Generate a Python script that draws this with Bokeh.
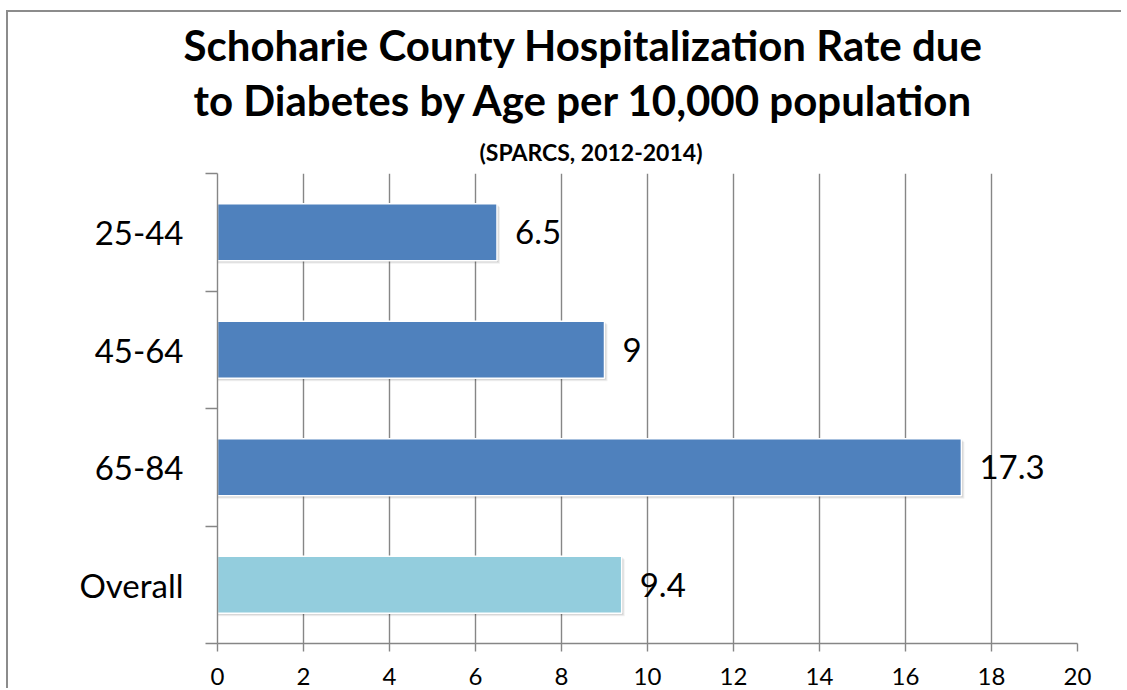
from bokeh.plotting import figure
from bokeh.models import Range1d, FixedTicker, Title, ColumnDataSource
from bokeh.embed import file_html
from bokeh.resources import INLINE
from bokeh.core.properties import value

# ---- data ----
categories = ["25-44", "45-64", "65-84", "Overall"]
rates = [6.5, 9, 17.3, 9.4]
rate_labels = ["6.5", "9", "17.3", "9.4"]
bar_colors = ["#4F81BD", "#4F81BD", "#4F81BD", "#93CDDD"]
x_ticks = [0, 2, 4, 6, 8, 10, 12, 14, 16, 18, 20]

title_lines = ["Schoharie County Hospitalization Rate due",
               "to Diabetes by Age per 10,000 population"]
subtitle = "(SPARCS, 2012-2014)"

FONT = "Lato"
GRID = "#868686"

n = len(categories)
# top-to-bottom order: first category at top
ypos = [n - i - 0.5 for i in range(n)]

W, H = 1115, 678
p = figure(width=W, height=H, output_backend="svg", toolbar_location=None,
           x_range=Range1d(0, 20), y_range=Range1d(0, n),
           min_border_left=209, min_border_right=46,
           min_border_top=161, min_border_bottom=47)
p.background_fill_color = "white"
p.border_fill_color = "white"
p.outline_line_color = None
p.margin = (10, 0, 0, 6)
p.styles = {"border-left": "2px solid #8c8c8c", "border-top": "2px solid #8c8c8c"}

# grid
p.ygrid.grid_line_color = None
p.xgrid.ticker = FixedTicker(ticks=x_ticks)
p.xgrid.grid_line_color = GRID
p.xgrid.grid_line_width = 1.4

# shadows (soft, layered)
bar_h = 0.485
for k, a in [(1, 0.10), (2, 0.08), (3, 0.06)]:
    dx = k * 1.0 / 43.0
    dy = k * 1.0 / 117.5
    p.hbar(y=[y - dy for y in ypos], left=0, right=[r + dx for r in rates],
           height=bar_h, fill_color="black", fill_alpha=a, line_color=None)

src = ColumnDataSource(dict(y=ypos, right=rates, color=bar_colors, lab=rate_labels))
p.hbar(y="y", left=0, right="right", height=bar_h, fill_color="color",
       line_color="white", line_width=1.5, source=src)

# value labels
p.text(x="right", y="y", text="lab", source=src, x_offset=18,
       text_align="left", text_baseline="middle",
       text_font=value(FONT), text_font_size="33px", text_color="black")

# x axis
xa = p.xaxis[0]
xa.ticker = FixedTicker(ticks=x_ticks)
xa.axis_line_color = GRID
xa.axis_line_width = 1.4
xa.major_tick_line_color = GRID
xa.major_tick_line_width = 1.4
xa.major_tick_out = 8
xa.major_tick_in = 0
xa.minor_tick_line_color = None
xa.major_label_text_font = FONT
xa.major_label_text_font_size = "24px"
xa.major_label_text_color = "black"
xa.major_label_standoff = 16

# y axis
ya = p.yaxis[0]
ya.ticker = FixedTicker(ticks=ypos, minor_ticks=list(range(n + 1)))
ya.major_label_overrides = {y: c for y, c in zip(ypos, categories)}
ya.axis_line_color = GRID
ya.axis_line_width = 1.4
ya.major_tick_line_color = None
ya.minor_tick_line_color = GRID
ya.minor_tick_line_width = 1.4
ya.minor_tick_out = 12
ya.minor_tick_in = 0
ya.major_label_text_font = FONT
ya.major_label_text_font_size = "33px"
ya.major_label_text_color = "black"
ya.major_label_standoff = 22

# titles (first added sits closest to the plot frame)
p.title = None
t_sub = Title(text=subtitle, align="left", offset=262, text_font=FONT,
              text_font_style="bold", text_font_size="23px", text_color="black",
              standoff=16)
t2 = Title(text=title_lines[1], align="left", offset=-24, text_font=FONT,
           text_font_style="bold", text_font_size="42px", text_color="black",
           standoff=5)
t1 = Title(text=title_lines[0], align="left", offset=-34, text_font=FONT,
           text_font_style="bold", text_font_size="42px", text_color="black",
           standoff=2)
p.add_layout(t_sub, "above")
p.add_layout(t2, "above")
p.add_layout(t1, "above")

open("out.html", "w").write(file_html(p, INLINE))
